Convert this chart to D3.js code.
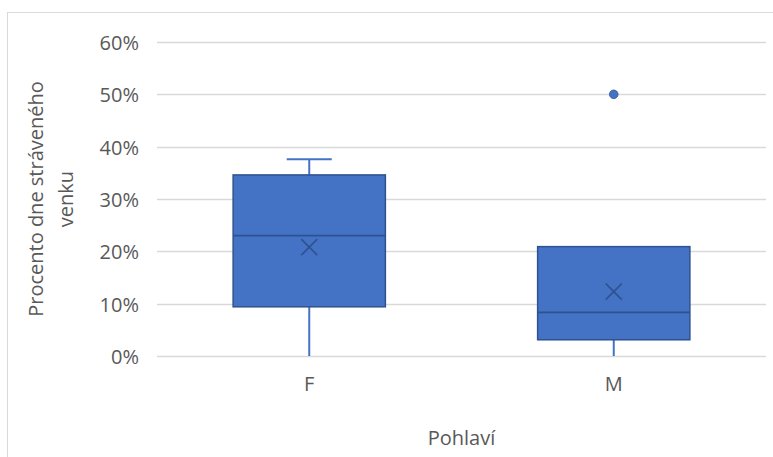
<!DOCTYPE html>
<html>
<head>
<meta charset="utf-8">
<script src="https://cdn.jsdelivr.net/npm/d3@7"></script>
<style>
  html, body { margin: 0; padding: 0; background: #fff; }
  svg { display: block; font-family: "Open Sans", "Noto Sans", sans-serif; }
</style>
</head>
<body>
<svg id="chart" width="773" height="457"></svg>
<script>
// Box-plot summary per gender (fractions of the day spent outside)
const categories = ["F", "M"];
const whiskerLow = [0.0, 0.0];
const q1Values = [0.094, 0.031];
const medianValues = [0.230, 0.0835];
const q3Values = [0.346, 0.209];
const whiskerHigh = [0.376, 0.209];
const meanValues = [0.208, 0.123];
const outliers = [[], [0.50]];
const yTicks = [0, 0.1, 0.2, 0.3, 0.4, 0.5, 0.6];

const svg = d3.select("#chart");
const W = 773, H = 457;
const plot = { left: 157, right: 766, top: 42, bottom: 356 };

const textColor = "#595959";
const gridColor = "#d9d9d9";
const fillColor = "#4472C4";
const edgeColor = "#2F528F";
const fontSize = "20px";

// chart frame
svg.append("rect")
  .attr("x", 7.5).attr("y", 12.5)
  .attr("width", W + 10).attr("height", H + 10)
  .attr("fill", "#fff").attr("stroke", gridColor).attr("stroke-width", 1);

const x = d3.scaleBand().domain(categories).range([plot.left, plot.right]);
const y = d3.scaleLinear().domain([0, 0.6]).range([plot.bottom, plot.top]);

// gridlines
svg.append("g").selectAll("line").data(yTicks).join("line")
  .attr("x1", plot.left).attr("x2", plot.right)
  .attr("y1", d => Math.round(y(d)) + 0.5).attr("y2", d => Math.round(y(d)) + 0.5)
  .attr("stroke", gridColor).attr("stroke-width", 1.3);

// y axis labels
const yAxis = d3.axisLeft(y).tickValues(yTicks).tickFormat(d3.format(".0%")).tickSize(0).tickPadding(0);
const gy = svg.append("g").attr("transform", `translate(${plot.left - 18},1)`).call(yAxis);
gy.select(".domain").remove();
gy.selectAll("text").attr("fill", textColor).style("font-size", fontSize)
  .style("font-family", "'Open Sans', sans-serif");

// x axis labels
const xAxis = d3.axisBottom(x).tickSize(0).tickPadding(0);
const gx = svg.append("g").attr("transform", `translate(0,${plot.bottom + 21})`).call(xAxis);
gx.select(".domain").remove();
gx.selectAll("text").attr("fill", textColor).style("font-size", fontSize)
  .style("font-family", "'Open Sans', sans-serif");

// axis titles
svg.append("text")
  .attr("x", (plot.left + plot.right) / 2).attr("y", 445)
  .attr("text-anchor", "middle").attr("fill", textColor)
  .style("font-size", fontSize).text("Pohlaví");

const yTitle = svg.append("text")
  .attr("transform", `translate(43,199) rotate(-90)`)
  .attr("text-anchor", "middle").attr("fill", textColor)
  .style("font-size", fontSize);
yTitle.append("tspan").attr("x", 0).attr("dy", 0).text("Procento dne stráveného");
yTitle.append("tspan").attr("x", 0).attr("dy", 30).text("venku");

// boxes
const boxW = x.bandwidth() * 0.5;
const capW = 45;
const data = categories.map((c, i) => ({
  c, lo: whiskerLow[i], q1: q1Values[i], med: medianValues[i], q3: q3Values[i],
  hi: whiskerHigh[i], mean: meanValues[i], out: outliers[i]
}));

const g = svg.append("g");
data.forEach(d => {
  const cx = x(d.c) + x.bandwidth() / 2;
  // lower whisker
  g.append("line").attr("x1", cx).attr("x2", cx).attr("y1", y(d.q1)).attr("y2", y(d.lo))
    .attr("stroke", fillColor).attr("stroke-width", 2);
  // upper whisker
  if (d.hi > d.q3) {
    g.append("line").attr("x1", cx).attr("x2", cx).attr("y1", y(d.q3)).attr("y2", y(d.hi))
      .attr("stroke", fillColor).attr("stroke-width", 2);
    g.append("line").attr("x1", cx - capW / 2).attr("x2", cx + capW / 2).attr("y1", y(d.hi)).attr("y2", y(d.hi))
      .attr("stroke", fillColor).attr("stroke-width", 2);
  }
  // box
  g.append("rect").attr("x", cx - boxW / 2).attr("y", y(d.q3))
    .attr("width", boxW).attr("height", y(d.q1) - y(d.q3))
    .attr("fill", fillColor).attr("stroke", edgeColor).attr("stroke-width", 1.5);
  // median
  g.append("line").attr("x1", cx - boxW / 2).attr("x2", cx + boxW / 2)
    .attr("y1", y(d.med)).attr("y2", y(d.med))
    .attr("stroke", edgeColor).attr("stroke-width", 1.8);
  // mean marker
  const m = 8, my = y(d.mean);
  g.append("path")
    .attr("d", `M${cx - m},${my - m}L${cx + m},${my + m}M${cx - m},${my + m}L${cx + m},${my - m}`)
    .attr("stroke", edgeColor).attr("stroke-width", 1.6).attr("fill", "none");
  // outliers
  d.out.forEach(v => {
    g.append("circle").attr("cx", cx).attr("cy", y(v)).attr("r", 4.3)
      .attr("fill", fillColor).attr("stroke", edgeColor).attr("stroke-width", 0.8);
  });
});
</script>
</body>
</html>
